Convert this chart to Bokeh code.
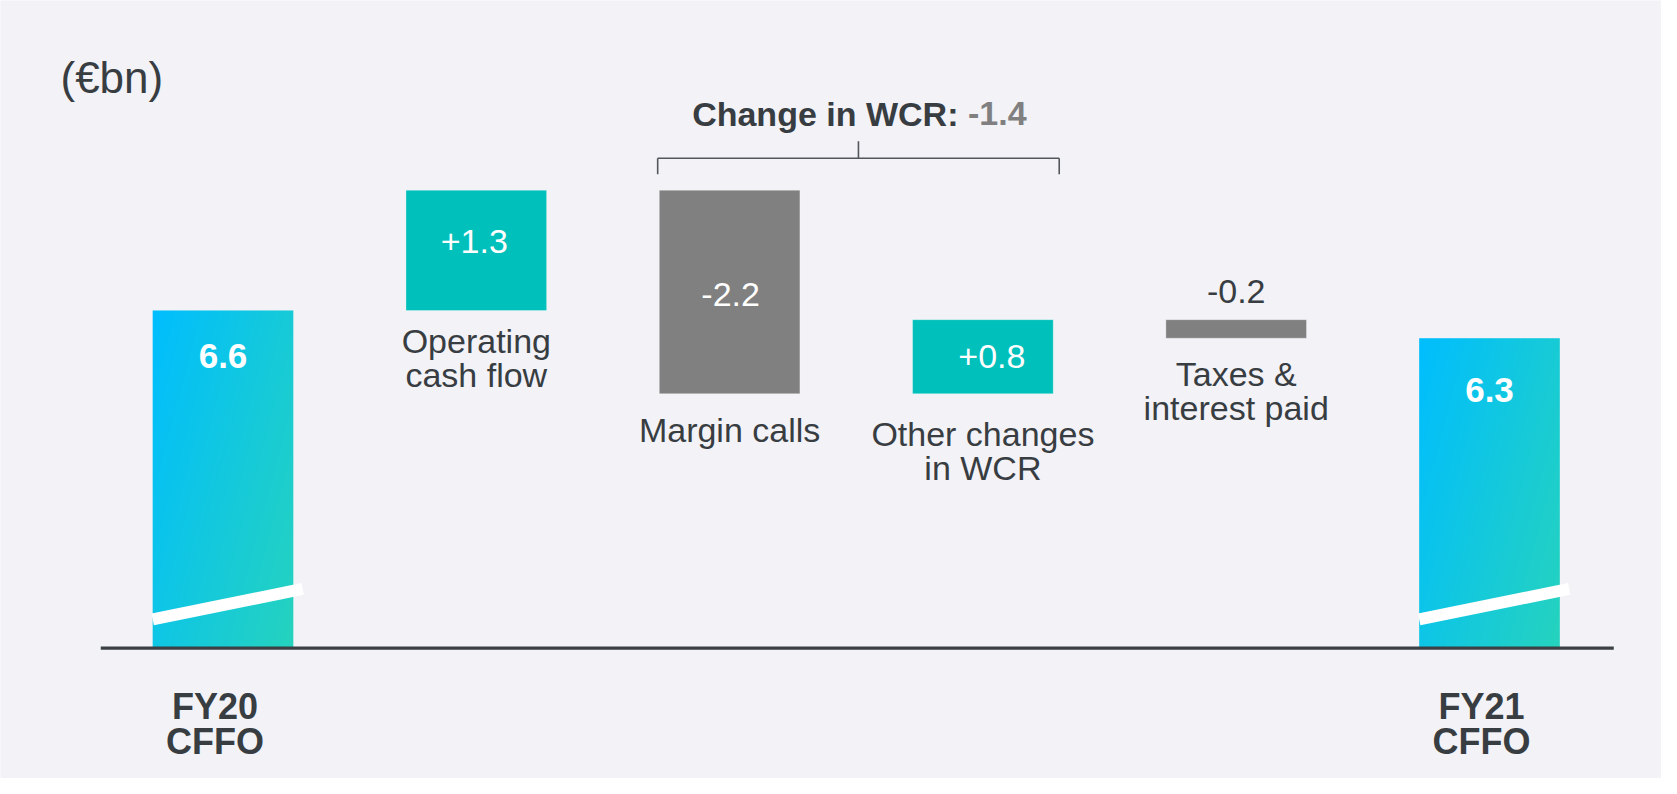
import numpy as np
from bokeh.plotting import figure
from bokeh.models import Label
from bokeh.core.properties import value
from bokeh.embed import file_html
from bokeh.resources import INLINE

# ---------------- data ----------------
unit_label = "(€bn)"
start_label = ["FY20", "CFFO"]
end_label = ["FY21", "CFFO"]
step_labels = [["Operating", "cash flow"], ["Margin calls"],
               ["Other changes", "in WCR"], ["Taxes &", "interest paid"]]
start_value = 6.6
step_values = [1.3, -2.2, 0.8, -0.2]
end_value = 6.3
wcr_steps = [1, 2]          # steps grouped under the bracket
wcr_title = "Change in WCR:"

# ---------------- layout / style ----------------
W, H = 1661, 778
PX_X, PX_Y = 253.3, 92.5            # pixels per data unit
X_START, Y_END = -0.8784, 9.951
BASE = 2.95                          # broken-axis floor shown at the baseline
HW = 0.2776                          # half bar width
FONT = "Liberation Sans"
DARK = "#383D42"
TEAL = "#00C0BB"
GREY = "#808080"
BG = "#F2F2F7"

p = figure(width=W, height=H, output_backend="svg", toolbar_location=None,
           x_range=(X_START, X_START + W / PX_X), y_range=(Y_END - H / PX_Y, Y_END),
           x_axis_type=None, y_axis_type=None, min_border=0,
           background_fill_color=BG, border_fill_color=BG, outline_line_color=None)

n_steps = len(step_values)
end_x = n_steps + 1

# ---- waterfall steps ----
cum = start_value
lefts, rights, bottoms, tops, colors = [], [], [], [], []
for i, d in enumerate(step_values):
    x = i + 1
    lo, hi = min(cum, cum + d), max(cum, cum + d)
    lefts.append(x - HW); rights.append(x + HW)
    bottoms.append(lo); tops.append(hi)
    colors.append(TEAL if d > 0 else GREY)
    cum += d
p.quad(left=lefts, right=rights, bottom=bottoms, top=tops, fill_color=colors,
       line_color="white", line_alpha=0.3, line_width=1)


# ---- total bars with gradient ----
def gradient_image(nx, ny):
    u = np.linspace(0, 1, nx)[None, :]
    v = np.linspace(1, 0, ny)[:, None]   # row 0 is the bottom
    th = np.deg2rad(15)
    a, b = nx * np.cos(th), ny * np.sin(th)
    t = (u * a + v * b) / (a + b)
    c0 = np.array([0, 190, 255], dtype=float)
    c1 = np.array([38, 211, 190], dtype=float)
    rgb = c0 + (c1 - c0) * t[..., None]
    rgba = np.empty((ny, nx, 4), dtype=np.uint8)
    rgba[..., :3] = np.clip(rgb, 0, 255).astype(np.uint8)
    rgba[..., 3] = 255
    return rgba.view(np.uint32).reshape(ny, nx)


for x, v in [(0, start_value), (end_x, end_value)]:
    nx = int(round(2 * HW * PX_X))
    ny = int(round((v - BASE) * PX_Y))
    p.image_rgba(image=[gradient_image(nx, ny)], x=x - HW, y=BASE,
                 dw=2 * HW, dh=v - BASE)
    # white break marker
    p.segment(x0=[x - HW], y0=[BASE + 28.6 / PX_Y],
              x1=[x + HW + 9.4 / PX_X], y1=[BASE + 59.3 / PX_Y],
              line_color="white", line_width=12, line_cap="butt")

# ---- baseline ----
p.segment(x0=[-HW - 0.205], y0=[BASE], x1=[end_x + HW + 0.213], y1=[BASE],
          line_color="#3B4045", line_width=3.4)

# ---- total value labels ----
p.text(x=[0, end_x], y=[start_value, end_value],
       text=[f"{start_value:.1f}", f"{end_value:.1f}"],
       y_offset=[46, 52], text_align="center", text_baseline="alphabetic",
       text_color="white", text_font=value(FONT), text_font_style="bold",
       text_font_size=value("35px"))

# ---- step value labels ----
lab_dx = [-2, 1, 9, 0]
lab_dy = [-9, 3, 0, -28]
for i, d in enumerate(step_values):
    inside = abs(d) * PX_Y > 40
    y = (bottoms[i] + tops[i]) / 2 if inside else tops[i]
    p.text(x=[i + 1], y=[y], text=[f"{d:+.1f}"], x_offset=lab_dx[i], y_offset=lab_dy[i],
           text_align="center", text_baseline="alphabetic",
           text_color="white" if inside else DARK,
           text_font=value(FONT), text_font_size=value("34px"))

# ---- category labels ----
cat_dy = [31, 36, 40.5, 36]
for i, lines in enumerate(step_labels):
    for k, line in enumerate(lines):
        p.text(x=[i + 1], y=[bottoms[i]], text=[line], y_offset=cat_dy[i] + 34 * k,
               text_align="center", text_baseline="alphabetic", text_color=DARK,
               text_font=value(FONT), text_font_size=value("34px"))
for x, lines in [(0, start_label), (end_x, end_label)]:
    for k, line in enumerate(lines):
        p.text(x=[x], y=[BASE], text=[line], x_offset=-8, y_offset=58 + 35 * k,
               text_align="center", text_baseline="alphabetic", text_color=DARK,
               text_font=value(FONT), text_font_style="bold",
               text_font_size=value("36px"))

# ---- WCR bracket ----
g_top = max(tops[i] for i in wcr_steps)
xl = (wcr_steps[0] + 1 - HW) - 1.6 / PX_X
xr = (wcr_steps[-1] + 1 + HW) + 6.0 / PX_X
xc = (xl + xr) / 2
yb = g_top + 32 / PX_Y
p.segment(x0=[xl, xl, xr, xc], y0=[yb, yb, yb, yb],
          x1=[xr, xl, xr, xc], y1=[yb, g_top + 16 / PX_Y, g_top + 16 / PX_Y, g_top + 49 / PX_Y],
          line_color="#52575C", line_width=1.6)
wcr_total = sum(step_values[i] for i in wcr_steps)
p.text(x=[xc], y=[g_top], text=[wcr_title], x_offset=100, y_offset=-76.5,
       text_align="right", text_baseline="alphabetic", text_color=DARK,
       text_font=value(FONT), text_font_style="bold", text_font_size=value("34px"))
p.text(x=[xc], y=[g_top], text=[f"{wcr_total:.1f}"], x_offset=109.5, y_offset=-76.5,
       text_align="left", text_baseline="alphabetic", text_color=GREY,
       text_font=value(FONT), text_font_style="bold", text_font_size=value("34px"))

# ---- unit label ----
p.add_layout(Label(x=60, y=H - 77, x_units="screen", y_units="screen", text=unit_label,
                   text_baseline="alphabetic", text_color=DARK,
                   text_font=FONT, text_font_size="44px"))

with open("out.html", "w", encoding="utf-8") as f:
    f.write(file_html(p, INLINE))
